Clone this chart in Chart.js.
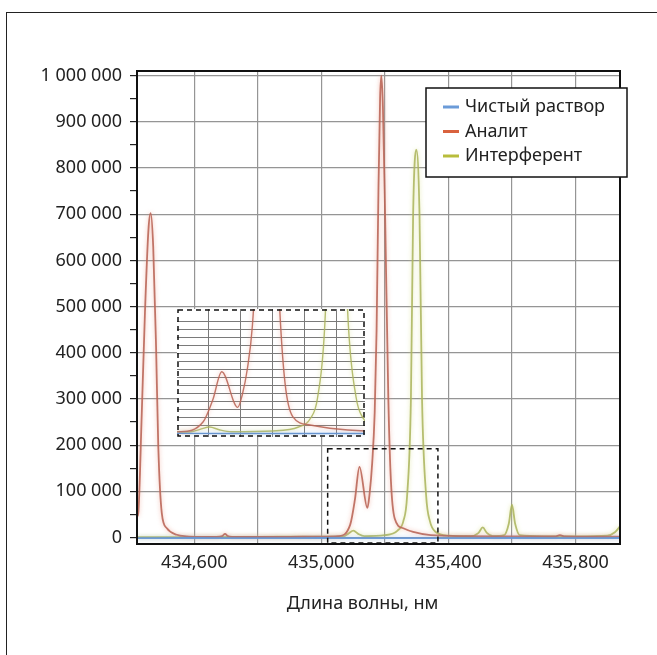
<!DOCTYPE html>
<html>
<head>
<meta charset="utf-8">
<script src="https://cdn.jsdelivr.net/npm/chart.js@4.4.1/dist/chart.umd.min.js"></script>
<style>
  html, body { margin: 0; padding: 0; background: #fff; overflow: hidden; }
  #wrap { position: relative; width: 657px; height: 655px; overflow: hidden; }
  #frame { position: absolute; left: 6px; top: 12px; width: 700px; height: 700px; border: 1.5px solid #222; box-sizing: border-box; }
  #main { position: absolute; left: 0; top: 0; }
  #inset { position: absolute; left: 177px; top: 309px; background: #fff; }
  #xtitle { position: absolute; left: 0; width: 725px; top: 590px; text-align: center; font: 18px "Noto Sans"; color: #222; }
</style>
</head>
<body>
<div id="wrap">
  <div id="frame"></div>
  <canvas id="main" width="657" height="655"></canvas>
  <canvas id="inset" width="188" height="128"></canvas>
  <div id="xtitle">Длина волны, нм</div>
</div>
<script>
// подписи серий
const seriesNames = ['Чистый раствор', 'Аналит', 'Интерферент'];
const seriesColors = ['#6b9bd8', '#d9623e', '#b8bd3c'];

// Чистый раствор
const blankX = [434.42, 434.60, 434.80, 435.00, 435.20, 435.40, 435.60, 435.80, 435.94];
const blankY = [-1200, -1000, -1300, -1000, -1200, -1400, -1000, -1200, -1000];

// Аналит
const analyteX = [434.420, 434.424, 434.435, 434.445, 434.456, 434.463, 434.471, 434.480, 434.487, 434.498,
  434.514, 434.545, 434.576, 434.620, 434.670, 434.688, 434.697, 434.706, 434.720, 434.800,
  434.900, 435.000, 435.054, 435.091, 435.106, 435.120, 435.145, 435.152, 435.160, 435.168,
  435.174, 435.180, 435.185, 435.189, 435.194, 435.201, 435.211, 435.219, 435.231, 435.258,
  435.289, 435.344, 435.450, 435.550, 435.650, 435.735, 435.751, 435.767, 435.850, 435.940];
const analyteY = [45000, 53000, 269000, 486000, 666000, 702000, 630000, 413000, 197000, 53000,
  20000, 6000, 2500, 1500, 1500, 3000, 8000, 3000, 1500, 1200,
  1500, 2000, 3000, 28000, 83000, 153000, 64000, 95000, 160000, 270000,
  450000, 760000, 950000, 1000000, 930000, 690000, 299000, 124000, 41000, 20000,
  12000, 5000, 3000, 2500, 2500, 2500, 5000, 2500, 2000, 2000];

// Интерферент
const interfX = [434.420, 434.600, 434.800, 435.000, 435.070, 435.086, 435.101, 435.116, 435.135, 435.200,
  435.240, 435.258, 435.270, 435.282, 435.289, 435.299, 435.309, 435.317, 435.330, 435.342,
  435.360, 435.400, 435.470, 435.495, 435.508, 435.521, 435.540, 435.575, 435.590, 435.600,
  435.610, 435.625, 435.700, 435.800, 435.900, 435.925, 435.940];
const interfY = [1000, 1000, 1500, 2000, 2500, 9000, 15000, 8000, 3000, 5000,
  15000, 35000, 90000, 300000, 700000, 840000, 700000, 300000, 90000, 35000,
  12000, 4000, 3000, 10000, 22000, 10000, 3000, 5000, 30000, 71000,
  30000, 5000, 2500, 2500, 4000, 12000, 24000];

// оси
const xGrid = [434.6, 434.8, 435.0, 435.2, 435.4, 435.6, 435.8];
const xLabeled = [434.6, 435.0, 435.4, 435.8];
const yMajor = [0, 100000, 200000, 300000, 400000, 500000, 600000, 700000, 800000, 900000, 1000000];
const yMinor = [50000, 150000, 250000, 350000, 450000, 550000, 650000, 750000, 850000, 950000];

// увеличенный фрагмент
const zoomBox = {xMin: 435.02, xMax: 435.367, yMin: -12000, yMax: 192000};
const insetXGrid = [435.10, 435.15, 435.20, 435.25, 435.30];
const insetYGrid = [0, 20000, 40000, 60000, 80000, 100000, 120000, 140000, 160000, 180000, 200000, 220000, 240000, 260000, 280000];

const FONT = '"Noto Sans", sans-serif';

function toPoints(xs, ys) {
  return xs.map((x, i) => ({x: x, y: ys[i]}));
}

function fmtThousands(v) {
  return String(Math.round(v)).replace(/\B(?=(\d{3})+(?!\d))/g, ' ');
}

function makeDatasets(width) {
  const lines = [
    {x: blankX, y: blankY, color: 'rgba(100,150,215,0.9)', glow: 'rgba(120,165,225,0.6)'},
    {x: analyteX, y: analyteY, color: 'rgba(185,100,85,0.88)', glow: 'rgba(235,150,130,0.7)'},
    {x: interfX, y: interfY, color: 'rgba(170,180,90,0.85)', glow: 'rgba(210,218,120,0.7)'}
  ];
  return lines.map((l, i) => ({
    label: seriesNames[i],
    data: toPoints(l.x, l.y),
    borderColor: l.color,
    glowColor: l.glow,
    borderWidth: width,
    pointRadius: 0,
    cubicInterpolationMode: 'monotone'
  }));
}

const glowPlugin = {
  id: 'glow',
  beforeDatasetDraw(chart, args) {
    const ctx = chart.ctx;
    ctx.save();
    ctx.shadowColor = chart.data.datasets[args.index].glowColor;
    ctx.shadowBlur = 4;
  },
  afterDatasetDraw(chart) {
    chart.ctx.restore();
  }
};

const decorPlugin = {
  id: 'decor',
  afterDatasetsDraw(chart) {
    const ctx = chart.ctx;
    const a = chart.chartArea;
    const xs = chart.scales.x, ys = chart.scales.y;
    ctx.save();
    // рамка области построения
    ctx.strokeStyle = '#111';
    ctx.lineWidth = 2;
    ctx.strokeRect(a.left, a.top, a.right - a.left, a.bottom - a.top);

    // пунктирная рамка фрагмента
    const bx1 = xs.getPixelForValue(zoomBox.xMin), bx2 = xs.getPixelForValue(zoomBox.xMax);
    const by1 = ys.getPixelForValue(zoomBox.yMax), by2 = ys.getPixelForValue(zoomBox.yMin);
    ctx.setLineDash([5, 4]);
    ctx.lineWidth = 1.5;
    ctx.strokeRect(bx1, by1, bx2 - bx1, by2 - by1);
    ctx.setLineDash([]);

    // легенда
    const lx = 426, ly = 88, lw = 201, lh = 89;
    ctx.fillStyle = '#fff';
    ctx.fillRect(lx, ly, lw, lh);
    ctx.lineWidth = 1.5;
    ctx.strokeStyle = '#111';
    ctx.strokeRect(lx, ly, lw, lh);
    ctx.font = '18px ' + FONT;
    ctx.textBaseline = 'middle';
    seriesNames.forEach((name, i) => {
      const cy = 107 + i * 24.5;
      ctx.strokeStyle = seriesColors[i];
      ctx.lineWidth = 3;
      ctx.beginPath();
      ctx.moveTo(443, cy);
      ctx.lineTo(459, cy);
      ctx.stroke();
      ctx.fillStyle = '#222';
      ctx.fillText(name, 465, cy);
    });
    ctx.restore();
  }
};

new Chart(document.getElementById('main'), {
  type: 'line',
  data: {datasets: makeDatasets(1.8)},
  options: {
    responsive: false,
    animation: false,
    events: [],
    layout: {padding: {left: 0, top: 71, right: 37, bottom: 71}},
    plugins: {legend: {display: false}, tooltip: {enabled: false}},
    scales: {
      x: {
        type: 'linear',
        min: 434.42,
        max: 435.94,
        afterBuildTicks: s => { s.ticks = xGrid.map(v => ({value: v})); },
        afterFit: s => { s.height = 40; },
        ticks: {
          autoSkip: false,
          maxRotation: 0,
          padding: 8,
          color: '#222',
          font: {family: FONT, size: 18},
          callback: v => xLabeled.some(t => Math.abs(t - v) < 1e-6) ? v.toFixed(3).replace('.', ',') : ''
        },
        grid: {color: '#959595', lineWidth: 1.2, drawTicks: false},
        border: {color: '#111', width: 2}
      },
      y: {
        min: -14000,
        max: 1010000,
        afterBuildTicks: s => { s.ticks = yMajor.concat(yMinor).sort((p, q) => p - q).map(v => ({value: v})); },
        afterFit: s => { s.width = 137; },
        ticks: {
          autoSkip: false,
          padding: 8,
          color: '#222',
          font: {family: FONT, size: 18},
          callback: v => yMajor.includes(v) ? fmtThousands(v) : ''
        },
        grid: {
          color: c => (c.tick && yMajor.includes(c.tick.value)) ? '#959595' : 'rgba(0,0,0,0)',
          lineWidth: 1.2,
          tickColor: '#222',
          tickLength: 7
        },
        border: {color: '#111', width: 2}
      }
    }
  },
  plugins: [glowPlugin, decorPlugin]
});

const insetBorder = {
  id: 'insetBorder',
  afterDraw(chart) {
    const ctx = chart.ctx;
    ctx.save();
    ctx.strokeStyle = '#111';
    ctx.lineWidth = 1.5;
    ctx.setLineDash([5, 4]);
    ctx.strokeRect(1, 1, chart.width - 2, chart.height - 2);
    ctx.restore();
  }
};

new Chart(document.getElementById('inset'), {
  type: 'line',
  data: {datasets: makeDatasets(1.4)},
  options: {
    responsive: false,
    animation: false,
    events: [],
    layout: {padding: 0},
    plugins: {legend: {display: false}, tooltip: {enabled: false}},
    scales: {
      x: {
        type: 'linear',
        min: 435.05,
        max: 435.344,
        afterBuildTicks: s => { s.ticks = insetXGrid.map(v => ({value: v})); },
        afterFit: s => { s.height = 0; },
        ticks: {display: false},
        grid: {color: '#7a7a7a', lineWidth: 1, drawTicks: false},
        border: {display: false}
      },
      y: {
        min: -10000,
        max: 310000,
        afterBuildTicks: s => { s.ticks = insetYGrid.map(v => ({value: v})); },
        afterFit: s => { s.width = 0; },
        ticks: {display: false},
        grid: {color: '#7a7a7a', lineWidth: 1, drawTicks: false},
        border: {display: false}
      }
    }
  },
  plugins: [glowPlugin, insetBorder]
});
</script>
</body>
</html>
